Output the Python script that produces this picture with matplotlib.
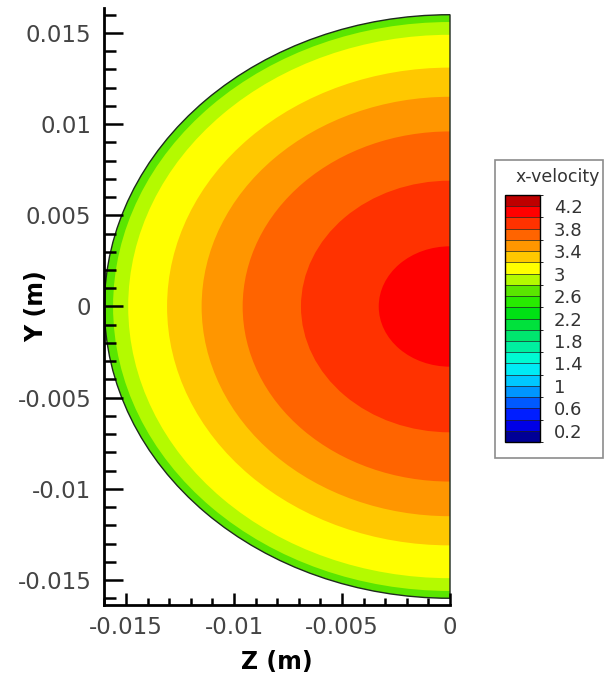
import numpy as np
import matplotlib
matplotlib.use('Agg')
import matplotlib.pyplot as plt
import matplotlib.ticker as ticker
from matplotlib.patches import Wedge, Rectangle
from matplotlib.colors import ListedColormap, BoundaryNorm
from matplotlib.cm import ScalarMappable

# legend levels (band edges) and the colour of each band
levels = [0.0, 0.2, 0.4, 0.6, 0.8, 1.0, 1.2, 1.4, 1.6, 1.8, 2.0, 2.2,
          2.4, 2.6, 2.8, 3.0, 3.2, 3.4, 3.6, 3.8, 4.0, 4.2, 4.4]
band_colors = ['#000096', '#0000e6', '#001eff', '#005aff', '#0096ff', '#00c8ff',
               '#00ebf5', '#00fad2', '#00f0a0', '#00e66e', '#00e13c', '#00e114',
               '#28eb00', '#5ae600', '#b4fa00', '#ffff00', '#ffc800', '#ff9600',
               '#ff6400', '#ff3200', '#ff0000', '#be0000']
cbar_ticks = [0.2, 0.6, 1.0, 1.4, 1.8, 2.2, 2.6, 3.0, 3.4, 3.8, 4.2]
cbar_labels = ['0.2', '0.6', '1', '1.4', '1.8', '2.2', '2.6', '3', '3.4', '3.8', '4.2']

# bands seen in the pipe section: lower level and outer radius (m)
band_lo = [2.6, 2.8, 3.0, 3.2, 3.4, 3.6, 3.8, 4.0]
band_r = [0.0160, 0.0156, 0.0149, 0.0131, 0.0115, 0.0096, 0.0069, 0.0033]

x_ticks = [-0.015, -0.01, -0.005, 0]
x_labels = ['-0.015', '-0.01', '-0.005', '0']
y_ticks = [-0.015, -0.01, -0.005, 0, 0.005, 0.01, 0.015]
y_labels = ['-0.015', '-0.01', '-0.005', '0', '0.005', '0.01', '0.015']

cmap = ListedColormap(band_colors)
norm = BoundaryNorm(levels, cmap.N)

fig = plt.figure(figsize=(6.05, 6.82), dpi=100)
ax = fig.add_axes([0.1719, 0.1129, 0.5719, 0.8754])

for lo, r in zip(band_lo, band_r):
    ax.add_patch(Wedge((0, 0), r, 90, 270, facecolor=cmap(norm(lo + 0.1)),
                       edgecolor='none'))
ax.add_patch(Wedge((0, 0), band_r[0], 90, 270, fill=False, edgecolor='#1e2a1e',
                   lw=1.0, clip_on=False))

ax.set_xlim(-0.01602, 0)
ax.set_ylim(-0.01637, 0.01637)

ax.set_xticks(x_ticks)
ax.set_xticklabels(x_labels)
ax.set_yticks(y_ticks)
ax.set_yticklabels(y_labels)
ax.xaxis.set_minor_locator(ticker.MultipleLocator(0.001))
ax.yaxis.set_minor_locator(ticker.MultipleLocator(0.001))

for s in ['top', 'right']:
    ax.spines[s].set_visible(False)
for s in ['left', 'bottom']:
    ax.spines[s].set_linewidth(2)

ax.tick_params(which='both', direction='in', width=1.8, labelsize=16.5,
               labelcolor='#444444')
ax.tick_params(axis='x', which='major', length=8.5, pad=8)
ax.tick_params(axis='x', which='minor', length=5)
ax.tick_params(axis='y', which='major', length=14, pad=9)
ax.tick_params(axis='y', which='minor', length=8.5)

ax.set_xlabel('Z (m)', fontsize=17, fontweight='bold')
ax.set_ylabel('Y (m)', fontsize=17, fontweight='bold')
ax.xaxis.set_label_coords(0.5, -0.075)
ax.yaxis.set_label_coords(-0.16, 0.5)

# legend box with colour bar
fig.add_artist(Rectangle((0.818, 0.328), 0.1785, 0.437, transform=fig.transFigure,
                         fill=False, edgecolor='#8c8c8c', lw=1.2))
fig.text(0.9215, 0.74, 'x-velocity', ha='center', va='center', fontsize=12.5,
         color='#333333')

cax = fig.add_axes([505 / 605, 1 - 442 / 682, 35 / 605, 247 / 682])
sm = ScalarMappable(norm=norm, cmap=cmap)
cb = fig.colorbar(sm, cax=cax, ticks=cbar_ticks, drawedges=True)
cb.ax.set_yticklabels(cbar_labels)
cb.ax.tick_params(length=0, pad=10, labelsize=13, labelcolor='#333333')
cb.outline.set_linewidth(1.0)
cb.dividers.set_color('#222222')
cb.dividers.set_linewidth(0.5)

fig.savefig('out.png', dpi=100)
